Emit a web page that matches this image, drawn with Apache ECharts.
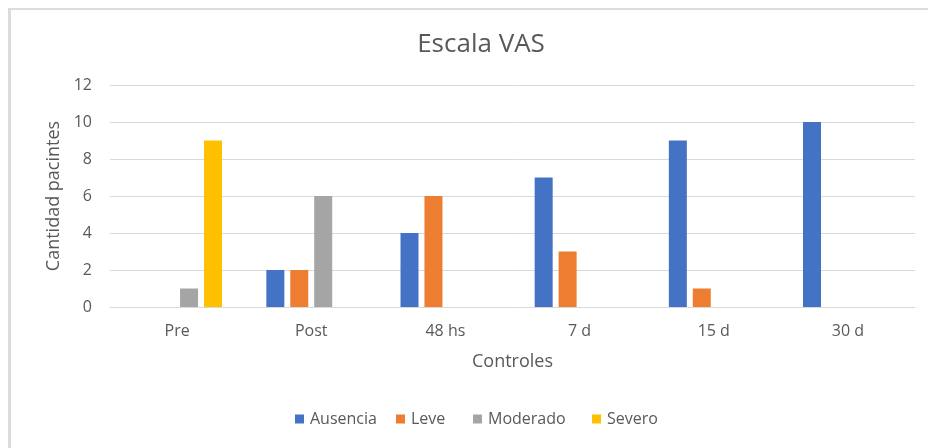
<!DOCTYPE html>
<html>
<head>
<meta charset="utf-8">
<script src="https://cdn.jsdelivr.net/npm/echarts@6/dist/echarts.min.js"></script>
<style>
    html, body { margin: 0; padding: 0; background: #fff; }
    #frame {
        position: absolute; left: 8px; top: 8px; width: 920px; height: 440px;
        border-top: 2px solid #dcdcdc; border-left: 3px solid #dcdcdc;
    }
    #main { position: absolute; left: 0; top: 0; width: 928px; height: 448px; }
</style>
</head>
<body>
<div id="frame"></div>
<div id="main"></div>
<script>
// datos de la escala VAS por control
var categorias = ['Pre', 'Post', '48 hs', '7 d', '15 d', '30 d'];
var niveles = ['Ausencia', 'Leve', 'Moderado', 'Severo'];
var ausencia = [0, 2, 4, 7, 9, 10];
var leve = [0, 2, 6, 3, 1, 0];
var moderado = [1, 6, 0, 0, 0, 0];
var severo = [9, 0, 0, 0, 0, 0];

var fuente = '"Open Sans", "Noto Sans", sans-serif';
var gris = '#595959';
// posicion x de cada entrada de leyenda (espaciado como en Excel)
var xLeyenda = [295, 396, 473, 592];

var myChart = echarts.init(document.getElementById('main'));

function serie(nombre, datos, color) {
    return {
        name: nombre,
        type: 'bar',
        data: datos,
        barWidth: 18,
        barGap: '33%',
        itemStyle: { color: color }
    };
}

var leyendas = niveles.map(function (n, i) {
    return {
        data: [n],
        left: xLeyenda[i],
        top: 411,
        padding: 0,
        itemWidth: 9,
        itemHeight: 9,
        icon: 'rect',
        textStyle: { fontFamily: fuente, fontSize: 16, color: gris, padding: [0, 0, 0, 1] }
    };
});

var option = {
    animation: false,
    textStyle: { fontFamily: fuente },
    title: {
        text: 'Escala VAS',
        left: 476,
        top: 27,
        textAlign: 'center',
        textStyle: { fontFamily: fuente, fontSize: 26, fontWeight: 'normal', color: gris }
    },
    legend: leyendas,
    grid: { left: 110, right: 13, top: 85, bottom: 141 },
    xAxis: {
        type: 'category',
        data: categorias,
        name: 'Controles',
        nameLocation: 'middle',
        nameGap: 46,
        nameTextStyle: { fontFamily: fuente, fontSize: 18, color: gris },
        axisLine: { lineStyle: { color: '#d9d9d9', width: 1 } },
        axisTick: { show: false },
        axisLabel: { fontFamily: fuente, fontSize: 16, color: gris, margin: 16 }
    },
    yAxis: {
        type: 'value',
        min: 0,
        max: 12,
        interval: 2,
        name: 'Cantidad pacintes',
        nameLocation: 'middle',
        nameGap: 46,
        nameTextStyle: { fontFamily: fuente, fontSize: 18, color: gris },
        axisLine: { show: false },
        axisTick: { show: false },
        axisLabel: { fontFamily: fuente, fontSize: 16, color: gris, margin: 18 },
        splitLine: { lineStyle: { color: '#d9d9d9', width: 1 } }
    },
    series: [
        serie('Ausencia', ausencia, '#4472c4'),
        serie('Leve', leve, '#ed7d31'),
        serie('Moderado', moderado, '#a5a5a5'),
        serie('Severo', severo, '#ffc000')
    ]
};

option && myChart.setOption(option);
</script>
</body>
</html>
